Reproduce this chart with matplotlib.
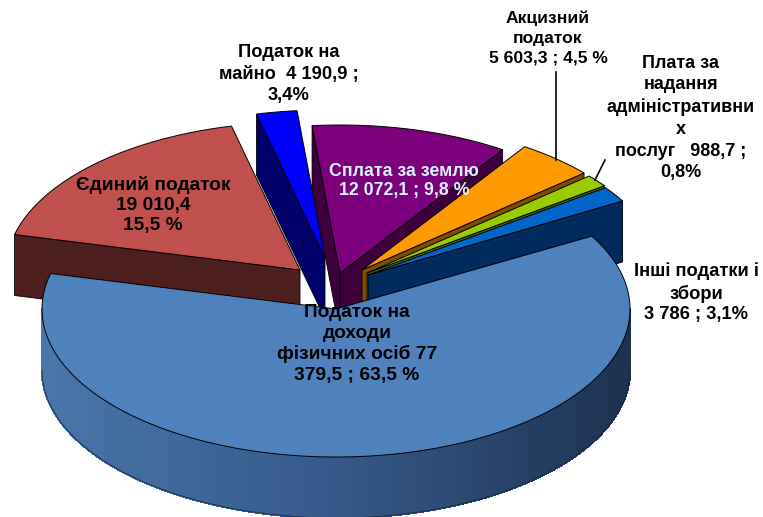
import numpy as np
import matplotlib
matplotlib.use("Agg")
import matplotlib.pyplot as plt
from matplotlib.collections import PolyCollection
from matplotlib.colors import to_rgb

plt.rcParams['font.family'] = ['Liberation Sans', 'DejaVu Sans']

# Дані (порядок проти годинникової стрілки, починаючи з "Інші")
categories = ["Інші податки і збори", "Плата за надання адміністративних послуг",
              "Акцизний податок", "Сплата за землю", "Податок на майно",
              "Єдиний податок", "Податок на доходи фізичних осіб"]
values = [3786.0, 988.7, 5603.3, 12072.1, 4190.9, 19010.4, 77379.5]

labels = ["Інші податки і\nзбори\n3 786 ; 3,1%",
          "Плата за\nнадання\nадміністративни\nх\nпослуг   988,7 ;\n0,8%",
          "Акцизний\nподаток\n5 603,3 ; 4,5 %",
          "Сплата за землю\n12 072,1 ; 9,8 %",
          "Податок на\nмайно  4 190,9 ;\n3,4%",
          "Єдиний податок\n19 010,4\n15,5 %",
          "Податок на\nдоходи\nфізичних осіб 77\n379,5 ; 63,5 %"]

# Стиль
top_colors = ["#0066cc", "#99cc00", "#ff9900", "#7c007c", "#0000ff", "#c0504d", "#4f81bd"]
wall_colors = ["#002b5c", "#4c6600", "#7f4c00", "#3d003d", "#00006b", "#4d1f1f", "#1f3350"]
label_pos = [(696, 293), (681, 118), (548, 38), (404, 181), (289, 74), (153, 205), (357, 344)]
label_colors = ["black", "black", "black", "#d8f4ff", "black", "black", "black"]
label_sizes = [13.2, 13.0, 12.6, 12.8, 13.2, 13.8, 13.8]
label_spacing = [1.3, 1.36, 1.36, 1.08, 1.32, 1.26, 1.26]

# Геометрія: вершини секторів, півосі еліпса, висота
tips = [(368, 275), (367, 273), (362, 270), (340, 273), (325, 258), (300, 270), (336, 309)]
a, b, depth = 294, 148, 61
start = 30

# Перспектива трохи змінює кути на екрані
warp_true = [30, 41, 44, 60, 95, 108, 164, 390]
warp_screen = [30, 36, 41, 56, 95, 103.5, 166.6, 389.5]


def edge_point(tip, t):
    return tip[0] + a * np.cos(np.radians(t)), tip[1] - b * np.sin(np.radians(t))


def draw_wall(ax, tip, t, color):
    x, y = edge_point(tip, t)
    ax.fill([tip[0], x, x, tip[0]], [tip[1], y, y + depth, tip[1] + depth],
            facecolor=color, edgecolor="black", lw=0.6)


def draw_rim(ax, tip, t0, t1):
    # Бокова поверхня: градієнт зліва направо
    ts = np.arange(max(t0, 180), min(t1, 360) + 0.5, 0.5)
    left = np.array(to_rgb("#4a76aa"))
    mid = np.array(to_rgb("#36598a"))
    right = np.array(to_rgb("#1d3250"))
    polys = []
    cols = []
    for i in range(len(ts) - 1):
        x0, y0 = edge_point(tip, ts[i])
        x1, y1 = edge_point(tip, ts[i + 1])
        polys.append([(x0, y0), (x1, y1), (x1, y1 + depth), (x0, y0 + depth)])
        f = (0.5 * (x0 + x1) - (tip[0] - a)) / (2 * a)
        if f < 0.5:
            cols.append(left + (mid - left) * f * 2)
        else:
            cols.append(mid + (right - mid) * (f - 0.5) * 2)
    ax.add_collection(PolyCollection(polys, facecolors=cols, edgecolors=cols,
                                     linewidths=1.0, antialiaseds=False))
    xs, ys = edge_point(tip, ts)
    ax.plot(xs, ys + depth, color="#1a2a40", lw=0.6)


def draw_top(ax, tip, t0, t1, color):
    ts = np.linspace(t0, t1, 300)
    xs, ys = edge_point(tip, ts)
    ax.fill(np.r_[tip[0], xs], np.r_[tip[1], ys], facecolor=color, edgecolor="black", lw=0.7)


fig = plt.figure(figsize=(7.63, 5.17), dpi=100)
ax = fig.add_axes([0, 0, 1, 1])
ax.set_xlim(0, 763)
ax.set_ylim(517, 0)
ax.axis("off")

# Кути секторів із значень
shares = np.array(values) / sum(values) * 360
edges = start + np.r_[0, np.cumsum(shares)]
edges = np.interp(edges, warp_true, warp_screen)

# Порядок малювання: від заднього плану до переднього
for i in [3, 2, 1, 0, 4, 5, 6]:
    t0, t1 = edges[i], edges[i + 1]
    if i == 6:
        draw_rim(ax, tips[i], t0, t1)
    else:
        if np.cos(np.radians(t0)) > 0:
            draw_wall(ax, tips[i], t0, wall_colors[i])
        if np.cos(np.radians(t1)) < 0:
            draw_wall(ax, tips[i], t1, wall_colors[i])
    draw_top(ax, tips[i], t0, t1, top_colors[i])

# Лінії-виноски
ax.plot([556, 556], [160, 72], color="black", lw=1.2)
ax.plot([595, 605], [180, 160], color="black", lw=1.2)

for lab, pos, col, fs, ls in zip(labels, label_pos, label_colors, label_sizes, label_spacing):
    ax.text(pos[0], pos[1], lab, ha="center", va="center", fontsize=fs,
            fontweight="bold", color=col, linespacing=ls)

plt.savefig("out.png", dpi=100)
